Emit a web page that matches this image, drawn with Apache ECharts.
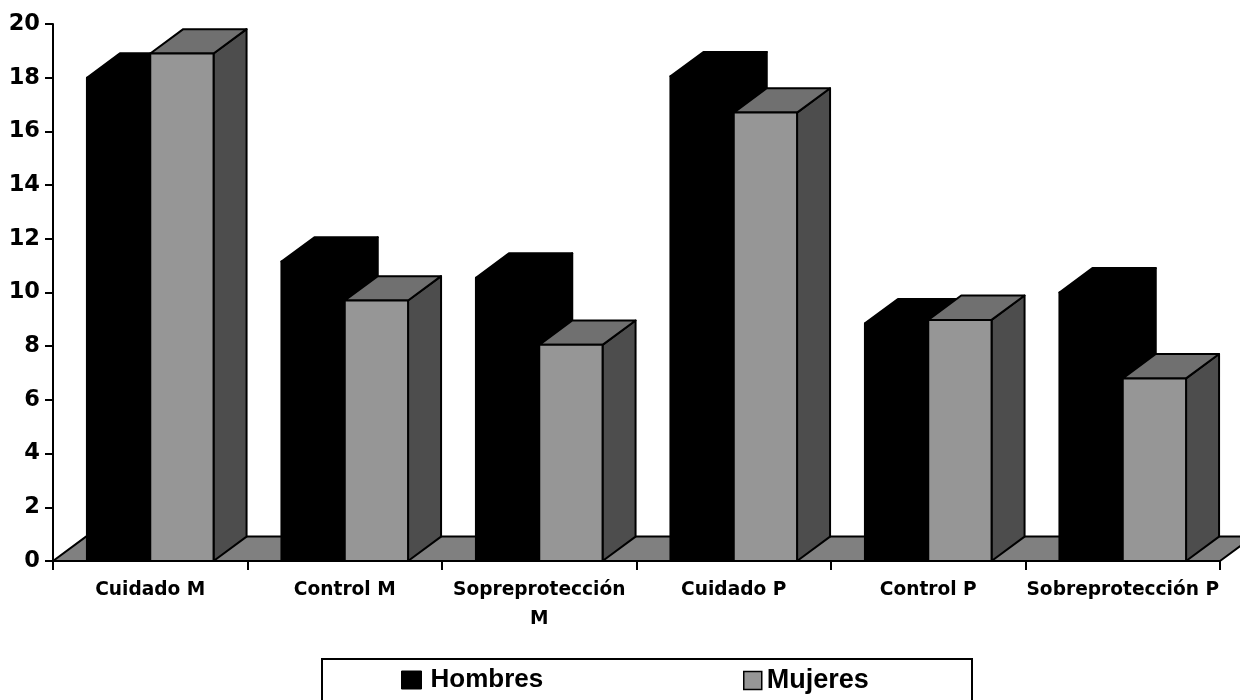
<!DOCTYPE html>
<html>
<head>
<meta charset="utf-8">
<title>Hombres y Mujeres</title>
<script src="https://cdn.jsdelivr.net/npm/echarts@6/dist/echarts.min.js"></script>
<style>
  html, body { margin: 0; padding: 0; background: #fff; }
  #chart { width: 1240px; height: 700px; }
</style>
</head>
<body>
<div id="chart"></div>
<script>
// Category names and series values
const categories = ['Cuidado M', 'Control M', 'Sopreprotección M', 'Cuidado P', 'Control P', 'Sobreprotección P'];
const hombres = [18.0, 11.15, 10.55, 18.05, 8.85, 10.0];
const mujeres = [18.9, 9.7, 8.05, 16.7, 8.98, 6.8];
const yTicks = { min: 0, max: 20, interval: 2 };

// Oblique depth of the pseudo-3D columns and floor (pixels)
const DEPTH_X = 33;
const DEPTH_Y = 24.4;
// Width of one column as a fraction of the category band
const BAR_FRAC = 0.3255;

const GRID = { left: 53, right: 20, top: 24, bottom: 139 };
const CHART_W = 1240;

const CAT_FONT = { family: 'DejaVu Sans', size: 18.6, weight: 'bold' };

const EDGE = { stroke: '#000', lineWidth: 2, lineJoin: 'round' };

// Wrap a category label onto two lines only when it is wider than its band
const measureCtx = document.createElement('canvas').getContext('2d');
measureCtx.font = CAT_FONT.weight + ' ' + CAT_FONT.size + 'px "' + CAT_FONT.family + '"';
const bandWidth = (CHART_W - GRID.left - GRID.right) / categories.length;
function wrapLabel(text) {
  if (measureCtx.measureText(text).width <= bandWidth) return text;
  const cut = text.lastIndexOf(' ');
  return cut > 0 ? text.slice(0, cut) + '\n' + text.slice(cut + 1) : text;
}

function columnRenderer(slot, faces) {
  return function (params, api) {
    const ci = api.value(0);
    const v = api.value(1);
    const top = api.coord([ci, v]);
    const base = api.coord([ci, 0]);
    const band = api.size([1, 0])[0];
    const bw = band * BAR_FRAC;
    const x0 = top[0] - bw + slot * bw;
    const x1 = x0 + bw;
    const yT = top[1];
    const yB = base[1];
    return {
      type: 'group',
      children: [
        { type: 'polygon', shape: { points: [[x1, yT], [x1 + DEPTH_X, yT - DEPTH_Y], [x1 + DEPTH_X, yB - DEPTH_Y], [x1, yB]] },
          style: Object.assign({ fill: faces.side }, EDGE) },
        { type: 'polygon', shape: { points: [[x0, yT], [x0 + DEPTH_X, yT - DEPTH_Y], [x1 + DEPTH_X, yT - DEPTH_Y], [x1, yT]] },
          style: Object.assign({ fill: faces.top }, EDGE) },
        { type: 'rect', shape: { x: x0, y: yT, width: bw, height: yB - yT },
          style: Object.assign({ fill: faces.front }, EDGE) }
      ]
    };
  };
}

function floorRenderer(params, api) {
  const cs = params.coordSys;
  const y0 = api.coord([0, 0])[1];
  const xl = cs.x, xr = cs.x + cs.width;
  return {
    type: 'polygon',
    shape: { points: [[xl, y0], [xl + DEPTH_X, y0 - DEPTH_Y], [xr + DEPTH_X, y0 - DEPTH_Y], [xr, y0]] },
    style: Object.assign({ fill: '#808080' }, EDGE)
  };
}

const chart = echarts.init(document.getElementById('chart'), null, { renderer: 'canvas' });

chart.setOption({
  backgroundColor: '#ffffff',
  animation: false,
  grid: Object.assign({ containLabel: false }, GRID),
  xAxis: {
    type: 'category',
    data: categories,
    boundaryGap: true,
    axisLine: { show: true, lineStyle: { color: '#000', width: 2 } },
    axisTick: { show: true, length: 9, alignWithLabel: false, lineStyle: { color: '#000', width: 2 } },
    axisLabel: {
      interval: 0,
      margin: 15,
      color: '#000',
      fontFamily: CAT_FONT.family,
      fontWeight: CAT_FONT.weight,
      fontSize: CAT_FONT.size,
      lineHeight: 29,
      hideOverlap: false,
      formatter: wrapLabel
    },
    splitLine: { show: false }
  },
  yAxis: {
    type: 'value',
    min: yTicks.min,
    max: yTicks.max,
    interval: yTicks.interval,
    axisLine: { show: true, lineStyle: { color: '#000', width: 2 } },
    axisTick: { show: true, length: 8, lineStyle: { color: '#000', width: 2 } },
    axisLabel: {
      margin: 13,
      color: '#000',
      fontFamily: 'DejaVu Sans',
      fontWeight: 'bold',
      fontSize: 22.5
    },
    splitLine: { show: false }
  },
  graphic: [{
    type: 'rect',
    z: 0,
    shape: { x: 322, y: 659, width: 650, height: 60 },
    style: { fill: '#fff', stroke: '#000', lineWidth: 2 }
  }],
  legend: [
    {
      left: 401, top: 667, padding: 0, itemWidth: 20, itemHeight: 18, z: 10,
      data: [{ name: 'Hombres', icon: 'rect', itemStyle: { color: '#000', borderColor: '#000', borderWidth: 1 } }],
      textStyle: { color: '#000', fontFamily: 'Liberation Sans', fontWeight: 'bold', fontSize: 26, padding: [0, 0, 0, 4] }
    },
    {
      left: 743, top: 667, padding: 0, itemWidth: 18, itemHeight: 18, z: 10,
      data: [{ name: 'Mujeres', icon: 'rect', itemStyle: { color: '#969696', borderColor: '#000', borderWidth: 1.5 } }],
      textStyle: { color: '#000', fontFamily: 'Liberation Sans', fontWeight: 'bold', fontSize: 27, padding: [0, 0, 0, 0] }
    }
  ],
  series: [
    {
      type: 'custom',
      name: 'floor',
      silent: true,
      renderItem: floorRenderer,
      data: [[0, 0]],
      encode: { x: 0, y: 1 },
      z: 1
    },
    {
      type: 'custom',
      name: 'Hombres',
      itemStyle: { color: '#000' },
      renderItem: columnRenderer(0, { front: '#000', top: '#000', side: '#000' }),
      data: categories.map((c, i) => [i, hombres[i]]),
      encode: { x: 0, y: 1 },
      z: 2
    },
    {
      type: 'custom',
      name: 'Mujeres',
      itemStyle: { color: '#969696' },
      renderItem: columnRenderer(1, { front: '#969696', top: '#707070', side: '#4d4d4d' }),
      data: categories.map((c, i) => [i, mujeres[i]]),
      encode: { x: 0, y: 1 },
      z: 3
    }
  ]
});
</script>
</body>
</html>
